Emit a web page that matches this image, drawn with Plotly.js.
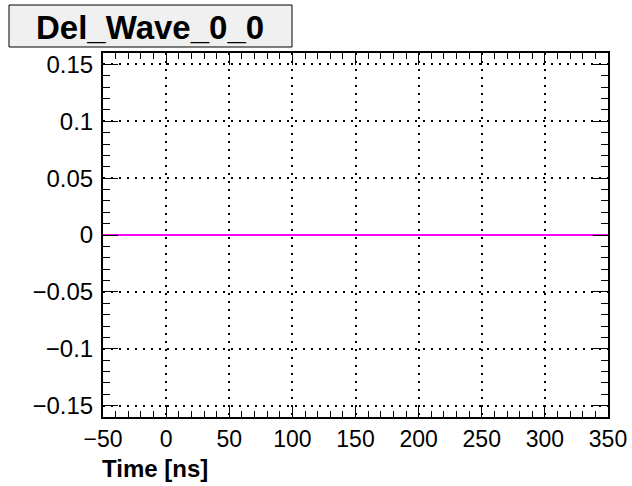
<!DOCTYPE html>
<html>
<head>
<meta charset="utf-8">
<script src="https://cdn.plot.ly/plotly-3.0.1.min.js"></script>
<style>html,body{margin:0;padding:0;background:#fff;}#chart{width:632px;height:486px;}</style>
</head>
<body>
<div id="chart"></div>
<script>
// Data
var timeNs = [-50, 0, 50, 100, 150, 200, 250, 300, 350];
var delWave = [0, 0, 0, 0, 0, 0, 0, 0, 0];
var xTickVals = [-50, 0, 50, 100, 150, 200, 250, 300, 350];
var yTickVals = [-0.15, -0.1, -0.05, 0, 0.05, 0.1, 0.15];
var yTickText = ["\u22120.15", "\u22120.1", "\u22120.05", "0", "0.05", "0.1", "0.15"];
var chartTitle = "Del_Wave_0_0";
var xTitle = "Time [ns]";

var W = 632, H = 486, L = 103, R = 24, T = 53, B = 69;
var pw = W - L - R, ph = H - T - B;
function px2x(p) { return (p - L) / pw; }
function py2y(p) { return (H - B - p) / ph; }

var font = "Liberation Sans, Arial, Helvetica, sans-serif";

var trace = {
  x: timeNs, y: delWave, type: "scatter", mode: "lines",
  line: {color: "#ff00ff", width: 2}, hoverinfo: "skip"
};

var axisCommon = {
  showline: true, linecolor: "#000", linewidth: 2, mirror: "allticks",
  ticks: "inside", tickcolor: "#000", tickwidth: 1,
  showgrid: true, gridcolor: "#000", gridwidth: 2, griddash: "2px,6px",
  zeroline: false, tickfont: {family: font, size: 24, color: "#000"}
};

var layout = {
  width: W, height: H,
  margin: {l: L, r: R, t: T, b: B, pad: 0},
  paper_bgcolor: "#fff", plot_bgcolor: "#fff",
  showlegend: false,
  xaxis: Object.assign({}, axisCommon, {
    range: [-50, 350], tickvals: xTickVals, ticklen: 12, ticklabelstandoff: 0,
    tickfont: {family: font, size: 23, color: "#000"},
    minor: {dtick: 10, ticks: "inside", ticklen: 6, tickcolor: "#000", tickwidth: 1, showgrid: false}
  }),
  yaxis: Object.assign({}, axisCommon, {
    range: [-0.16, 0.16], tickvals: yTickVals, ticktext: yTickText, ticklen: 15, ticklabelstandoff: 3,
    minor: {dtick: 0.01, ticks: "inside", ticklen: 7, tickcolor: "#000", tickwidth: 1, showgrid: false}
  }),
  shapes: [{
    type: "rect", xref: "paper", yref: "paper",
    x0: px2x(9), x1: px2x(292), y0: py2y(47), y1: py2y(5),
    fillcolor: "#f0f0f0", line: {color: "#000", width: 1}, layer: "above"
  }],
  annotations: [{
    text: "<b>" + chartTitle + "</b>", xref: "paper", yref: "paper",
    x: px2x(150), y: py2y(27), xanchor: "center", yanchor: "middle",
    showarrow: false, font: {family: font, size: 33, color: "#000"}
  }, {
    text: "<b>" + xTitle + "</b>", xref: "paper", yref: "paper",
    x: px2x(100), y: py2y(468), xanchor: "left", yanchor: "middle",
    showarrow: false, font: {family: font, size: 24, color: "#000"}
  }]
};

Plotly.newPlot("chart", [trace], layout, {staticPlot: true, displayModeBar: false});
</script>
</body>
</html>
